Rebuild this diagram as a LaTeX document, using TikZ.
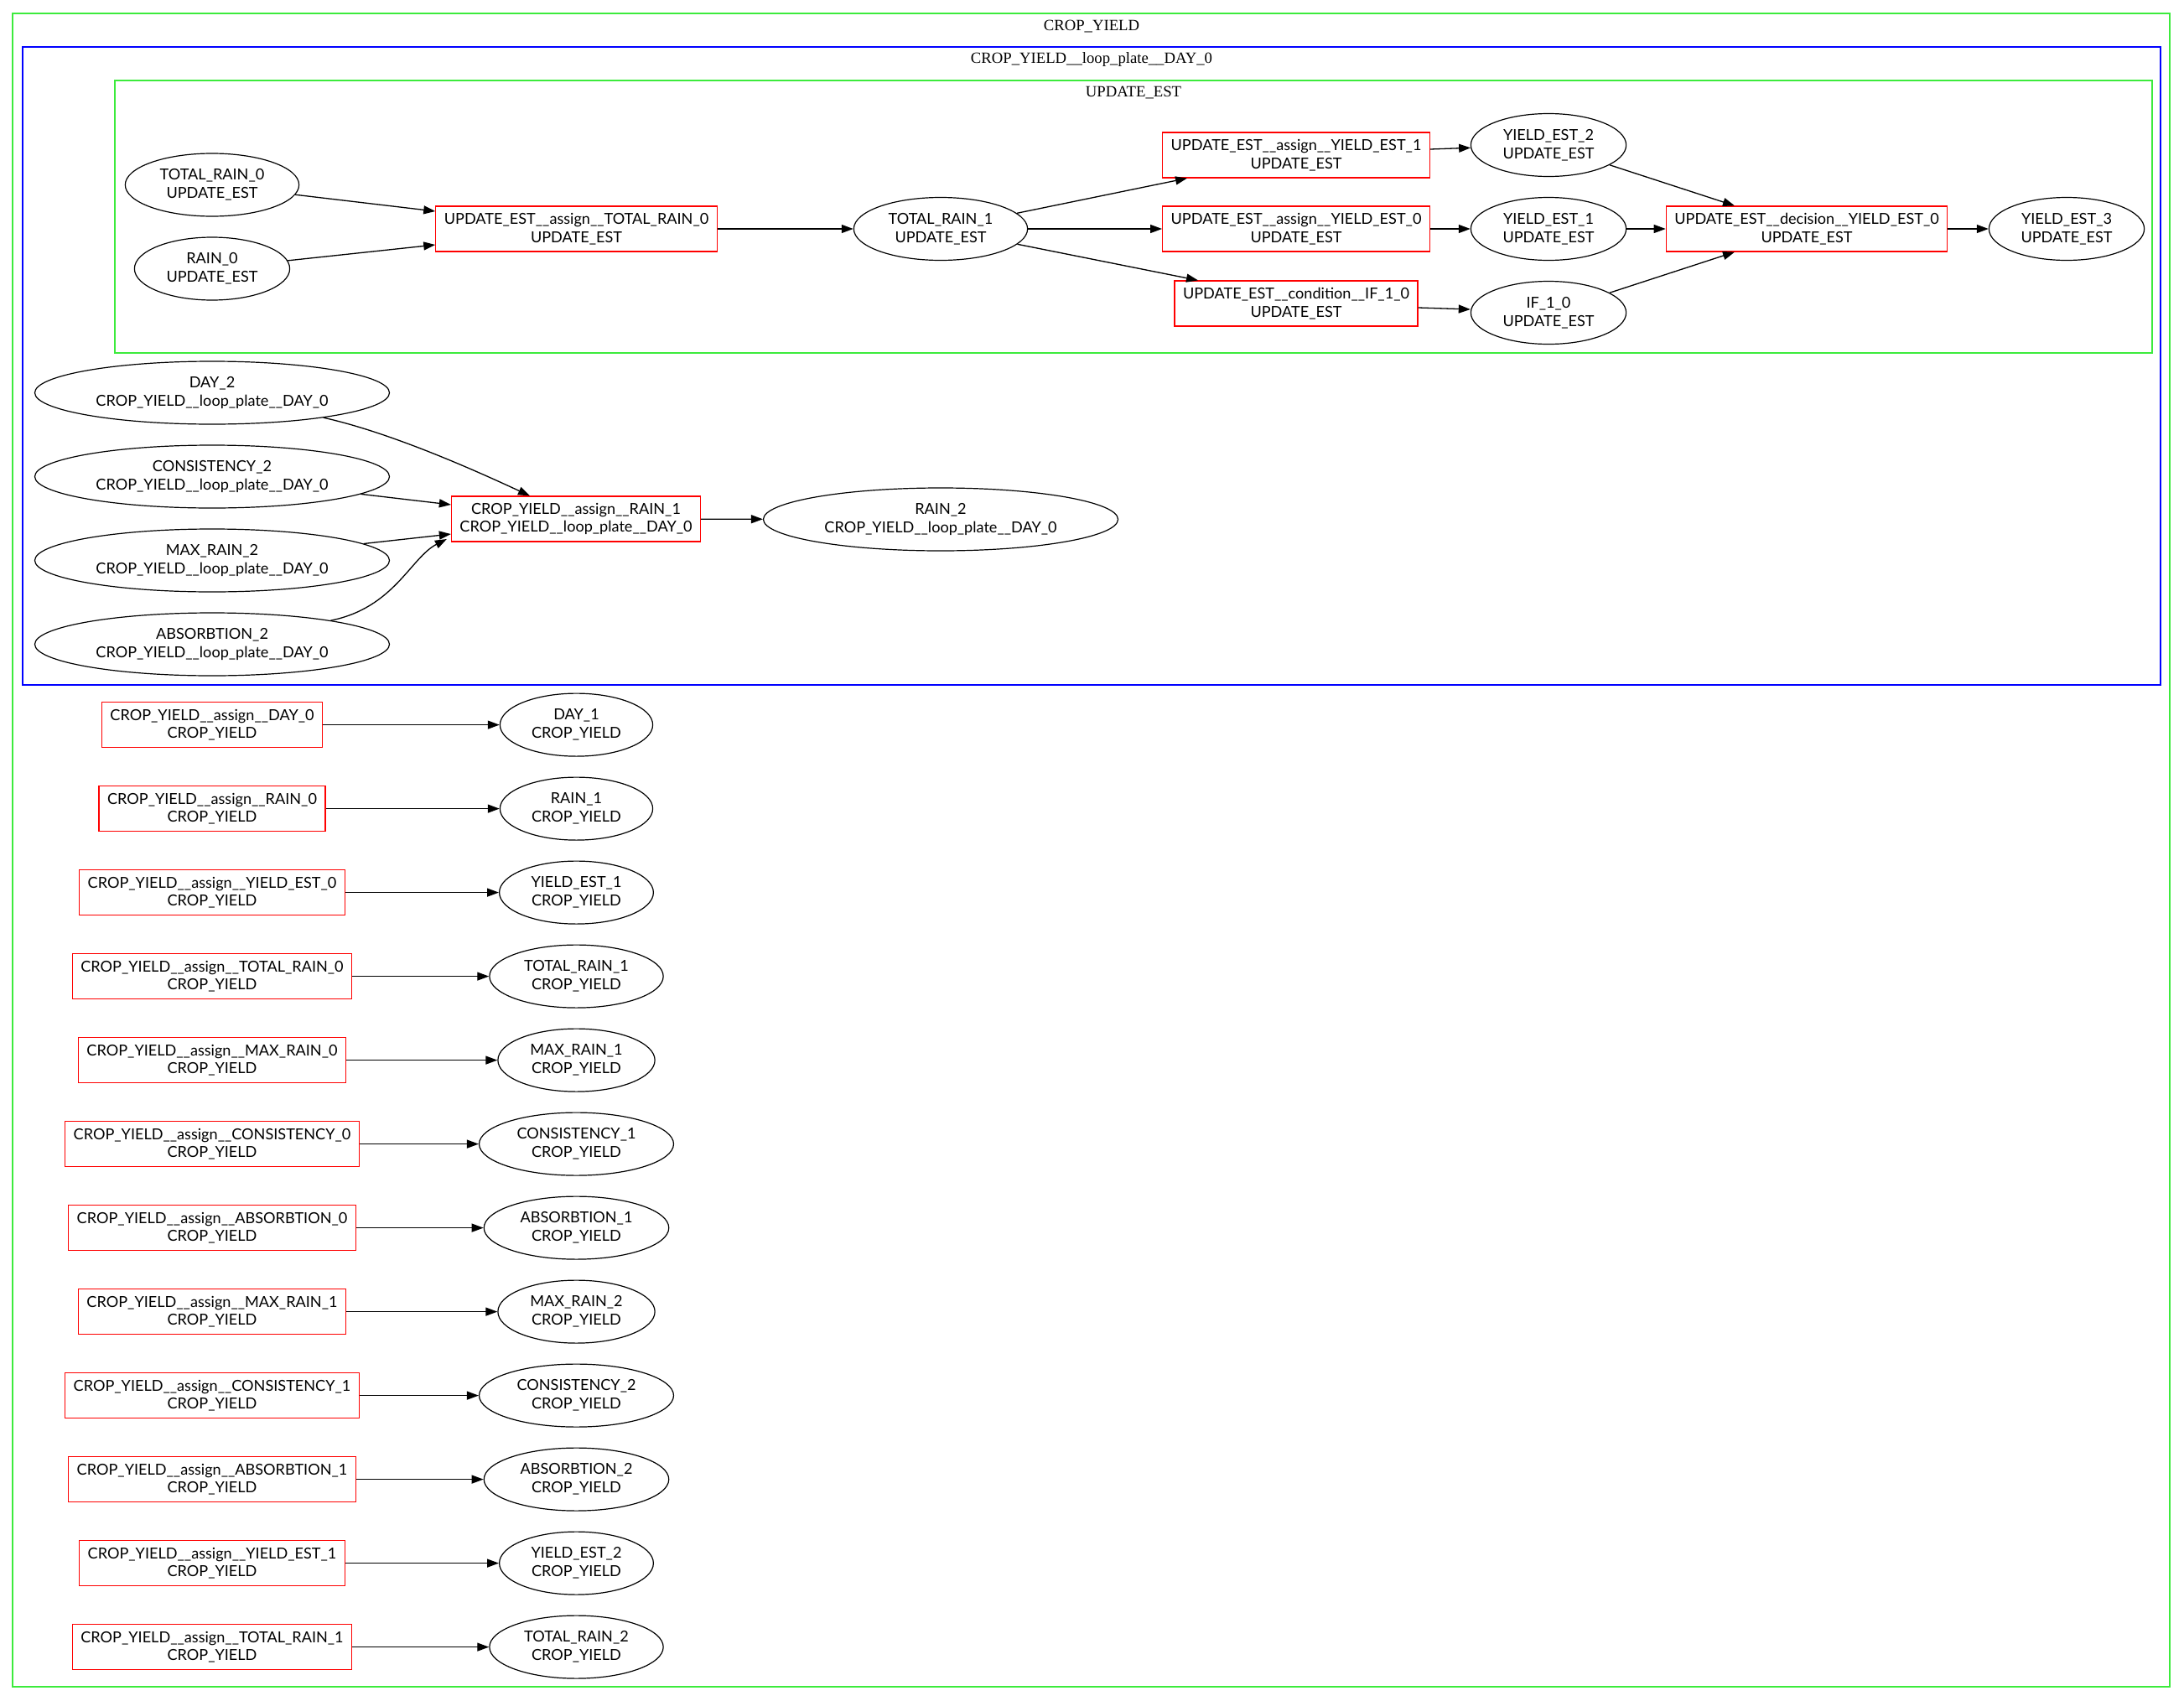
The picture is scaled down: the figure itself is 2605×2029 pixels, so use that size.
\documentclass[tikz,border=0pt]{standalone}
\usepackage{fontspec}
\setmainfont{Liberation Serif}
\newfontfamily\gillish{Lato}
\usepackage{tikz}
\usetikzlibrary{positioning,shapes.geometric,arrows.meta}

\definecolor{plategreen}{RGB}{60,235,60}
\definecolor{plateblue}{RGB}{0,0,255}
\definecolor{opred}{RGB}{255,0,0}

\begin{document}
\begin{tikzpicture}[x=1pt,y=-1pt,
  opbox/.style={draw=opred, line width=1.2pt, rectangle, align=center,
    minimum height=54pt, inner xsep=10pt, inner ysep=2pt,
    font=\gillish\fontsize{18.1}{21.8}\selectfont},
  varnode/.style={draw, line width=1.2pt, ellipse, align=center,
    minimum height=75pt, inner xsep=11pt, inner ysep=2pt,
    font=\gillish\fontsize{18.1}{21.8}\selectfont},
  flow/.style={-{Triangle[length=14pt,width=10pt]}, line width=1.3pt},
  plate/.style={line width=1.5pt},
  platetitle/.style={anchor=base, inner sep=0pt, font=\fontsize{18.7}{22}\selectfont}]
\useasboundingbox (0,0) rectangle (2605,2029);

%% plates
\draw[plate, plategreen] (15,16) rectangle (2588,2012);
\draw[plate, plateblue] (27,56) rectangle (2577,817);
\draw[plate, plategreen] (137,96) rectangle (2567,421);
\node[platetitle] (tcrop) at (1302,36) {CROP\_YIELD};
\node[platetitle] (tloop) at (1302,75) {CROP\_YIELD\_\_loop\_plate\_\_DAY\_0};
\node[platetitle] (tupd) at (1352,115.5) {UPDATE\_EST};

%% UPDATE_EST
\node[varnode] (tr0) at (253,220.5) {TOTAL\_RAIN\_0\\UPDATE\_EST};
\node[varnode] (r0) at (253,320.5) {RAIN\_0\\UPDATE\_EST};
\node[opbox] (asgtr0) at (687.5,273) {UPDATE\_EST\_\_assign\_\_TOTAL\_RAIN\_0\\UPDATE\_EST};
\node[varnode] (tr1) at (1122,273) {TOTAL\_RAIN\_1\\UPDATE\_EST};
\node[opbox] (asgye1) at (1546,185) {UPDATE\_EST\_\_assign\_\_YIELD\_EST\_1\\UPDATE\_EST};
\node[opbox] (asgye0) at (1546,273) {UPDATE\_EST\_\_assign\_\_YIELD\_EST\_0\\UPDATE\_EST};
\node[opbox] (condif) at (1546,362) {UPDATE\_EST\_\_condition\_\_IF\_1\_0\\UPDATE\_EST};
\node[varnode] (ye2) at (1847,173) {YIELD\_EST\_2\\UPDATE\_EST};
\node[varnode] (ye1) at (1847,273) {YIELD\_EST\_1\\UPDATE\_EST};
\node[varnode] (if10) at (1847,373) {IF\_1\_0\\UPDATE\_EST};
\node[opbox] (decye) at (2155,273) {UPDATE\_EST\_\_decision\_\_YIELD\_EST\_0\\UPDATE\_EST};
\node[varnode] (ye3) at (2465,273) {YIELD\_EST\_3\\UPDATE\_EST};

\draw[flow] (tr0) -- ([yshift=21pt]asgtr0.west);
\draw[flow] (r0) -- ([yshift=-19pt]asgtr0.west);
\draw[flow] (asgtr0) -- (tr1);
\draw[flow] (tr1) -- ([xshift=-130pt]asgye1.south);
\draw[flow] (tr1) -- (asgye0);
\draw[flow] (tr1) -- ([xshift=-117pt]condif.north);
\draw[flow] ([yshift=7pt]asgye1.east) -- (ye2);
\draw[flow] (asgye0) -- (ye1);
\draw[flow] ([yshift=-5pt]condif.east) -- ([yshift=4pt]if10.west);
\draw[flow] (ye2) -- ([xshift=-86pt]decye.north);
\draw[flow] (ye1) -- (decye);
\draw[flow] (if10) -- ([xshift=-86pt]decye.south);
\draw[flow] (decye) -- (ye3);

%% loop plate
\node[varnode] (day2) at (253,468.5) {DAY\_2\\CROP\_YIELD\_\_loop\_plate\_\_DAY\_0};
\node[varnode] (cons2) at (253,568.5) {CONSISTENCY\_2\\CROP\_YIELD\_\_loop\_plate\_\_DAY\_0};
\node[varnode] (max2) at (253,668.5) {MAX\_RAIN\_2\\CROP\_YIELD\_\_loop\_plate\_\_DAY\_0};
\node[varnode] (abs2) at (253,768.5) {ABSORBTION\_2\\CROP\_YIELD\_\_loop\_plate\_\_DAY\_0};
\node[opbox] (asgrain1) at (687,619) {CROP\_YIELD\_\_assign\_\_RAIN\_1\\CROP\_YIELD\_\_loop\_plate\_\_DAY\_0};
\node[varnode] (rain2) at (1122,619.5) {RAIN\_2\\CROP\_YIELD\_\_loop\_plate\_\_DAY\_0};

\draw[flow] (day2) .. controls (470,517) and (575,565) .. ([xshift=-55pt]asgrain1.north);
\draw[flow] (cons2) -- ([yshift=17pt]asgrain1.west);
\draw[flow] (max2) -- ([yshift=-18pt]asgrain1.west);
\draw[flow] (abs2) .. controls (470,725) and (490,665) .. ([xshift=-5pt,yshift=-24pt]asgrain1.west);
\draw[flow] (asgrain1) -- (rain2);

%% CROP_YIELD assignments
\foreach \src/\dst [count=\k] in {DAY\_0/DAY\_1, RAIN\_0/RAIN\_1, YIELD\_EST\_0/YIELD\_EST\_1,
    TOTAL\_RAIN\_0/TOTAL\_RAIN\_1, MAX\_RAIN\_0/MAX\_RAIN\_1, CONSISTENCY\_0/CONSISTENCY\_1,
    ABSORBTION\_0/ABSORBTION\_1, MAX\_RAIN\_1/MAX\_RAIN\_2, CONSISTENCY\_1/CONSISTENCY\_2,
    ABSORBTION\_1/ABSORBTION\_2, YIELD\_EST\_1/YIELD\_EST\_2, TOTAL\_RAIN\_1/TOTAL\_RAIN\_2} {
  \pgfmathsetmacro{\y}{764.6+100*\k}
  \node[opbox] (asg\k) at (253,\y) {CROP\_YIELD\_\_assign\_\_\src\\CROP\_YIELD};
  \node[varnode] (var\k) at (687.5,\y) {\dst\\CROP\_YIELD};
  \draw[flow] (asg\k) -- (var\k);
}
\end{tikzpicture}
\end{document}
